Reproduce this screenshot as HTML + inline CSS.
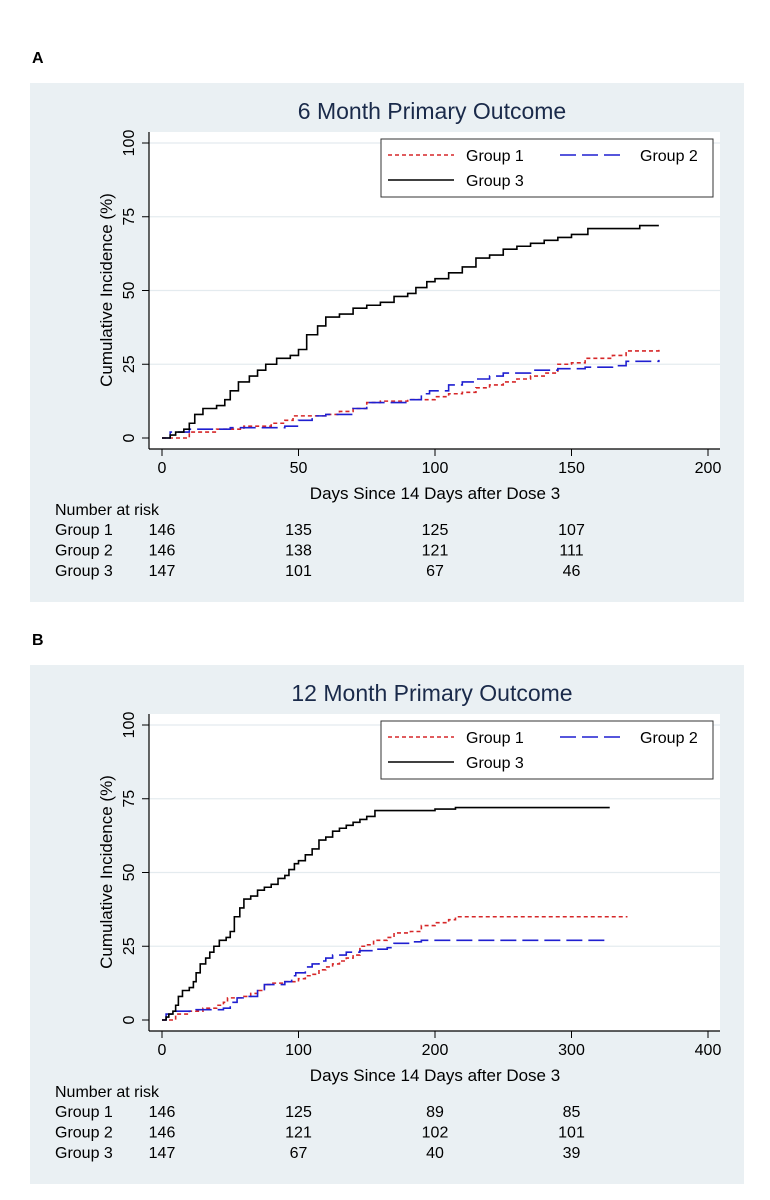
<!DOCTYPE html>
<html><head><meta charset="utf-8"><style>
html,body{margin:0;padding:0;background:#fff;width:770px;height:1200px;overflow:hidden}
svg{display:block;font-family:"Liberation Sans",Arial,sans-serif}
</style></head><body>
<svg id="root" width="770" height="1200" viewBox="0 0 770 1200" xmlns="http://www.w3.org/2000/svg"></svg>
<script>
// ---- data ----
const g1Days6 = [0,10,20,30,40,45,48,60,65,70,75,80,90,100,105,110,115,120,125,130,135,140,145,150,155,165,170,182];
const g1Vals6 = [0,2,3,4,5,6,7.5,8,9,10,12,12.5,13,14,15,15.5,17,18,19,20,21,22,25,25.5,27,28,29.5,30];
const g2Days6 = [0,3,10,25,45,50,55,60,70,75,90,95,98,105,110,115,120,125,135,145,155,165,170,182];
const g2Vals6 = [0,2,3,3.5,4,6,7.5,8,10,12,13,15,16,18,19,20,21,22,23,23.5,24,24.5,26,26.5];
const g3Days6 = [0,3,5,8,10,12,15,20,23,25,28,32,35,38,42,47,50,53,57,60,65,70,75,80,85,90,93,97,100,105,110,115,120,125,130,135,140,145,150,156,175,182];
const g3Vals6 = [0,1,2,3,5,8,10,11,13,16,19,21,23,25,27,28,30,35,38,41,42,44,45,46,48,49,51,53,54,56,58,61,62,64,65,66,67,68,69,71,72,72];
const g1Days12 = [0,10,20,30,40,45,48,60,65,70,75,80,90,100,105,110,115,120,125,130,135,140,145,150,155,165,170,182,190,200,210,215,341];
const g1Vals12 = [0,2,3,4,5,6,7.5,8,9,10,12,12.5,13,14,15,15.5,17,18,19,20,21,22,25,25.5,27,28,29.5,30,32,33,34,35,35];
const g2Days12 = [0,3,10,25,45,50,55,60,70,75,90,95,98,105,110,115,120,125,135,145,155,165,170,182,190,326];
const g2Vals12 = [0,2,3,3.5,4,6,7.5,8,10,12,13,15,16,18,19,20,21,22,23,23.5,24,24.5,26,26.5,27,27];
const g3Days12 = [0,3,5,8,10,12,15,20,23,25,28,32,35,38,42,47,50,53,57,60,65,70,75,80,85,90,93,97,100,105,110,115,120,125,130,135,140,145,150,156,200,215,328];
const g3Vals12 = [0,1,2,3,5,8,10,11,13,16,19,21,23,25,27,28,30,35,38,41,42,44,45,46,48,49,51,53,54,56,58,61,62,64,65,66,67,68,69,71,71.5,72,72];
const yTicks = [0,25,50,75,100];
const xTicks6 = [0,50,100,150,200];
const xTicks12 = [0,100,200,300,400];
const riskGroups = ["Group 1","Group 2","Group 3"];
const risk6 = [[146,135,125,107],[146,138,121,111],[147,101,67,46]];
const risk12 = [[146,125,89,85],[146,121,102,101],[147,67,40,39]];

const NS="http://www.w3.org/2000/svg";
const root=document.getElementById('root');
function mk(tag,attrs,parent,text){const e=document.createElementNS(NS,tag);for(const k in attrs)e.setAttribute(k,attrs[k]);if(text!==undefined)e.textContent=text;(parent||root).appendChild(e);return e;}

function panel(off,letter,title,xmax,xTicks,series,risk,pname){
  const g=mk('g',{});
  
  
  const lt=mk('text',{x:32,y:63+off,'font-size':'16','font-weight':'bold','fill':'#000'},g,letter);
  
  
  const bg=mk('rect',{x:30,y:83+off,width:714,height:519,fill:'#eaf0f3'},g);
  
  
  const pl=mk('rect',{x:149,y:132+off,width:571,height:317,fill:'#fff'},g);
  
  
  const t=mk('text',{x:432,y:119+off,'font-size':'23','fill':'#1a2a4a','text-anchor':'middle'},g,title);
  
  
  const X=d=>162+d*(546/xmax);
  const Y=v=>438+off-v*2.95;
  yTicks.forEach(v=>{
    if(v>0){const gl=mk('line',{x1:149,x2:720,y1:Y(v),y2:Y(v),stroke:'#e4ebef','stroke-width':1.2},g);
      
      }
    mk('line',{x1:142,x2:149,y1:Y(v),y2:Y(v),stroke:'#000'},g);
    const tl=mk('text',{x:0,y:0,transform:`translate(134,${Y(v)}) rotate(-90)`,'font-size':'16','text-anchor':'middle'},g,String(v));
    
    
  });
  mk('line',{x1:149,x2:149,y1:132+off,y2:449+off,stroke:'#000','stroke-width':1.2},g);
  mk('line',{x1:149,x2:720,y1:449+off,y2:449+off,stroke:'#000','stroke-width':1.2},g);
  const yt=mk('text',{x:0,y:0,transform:`translate(112,${290+off}) rotate(-90)`,'font-size':'17','text-anchor':'middle'},g,'Cumulative Incidence (%)');
  
  
  xTicks.forEach(d=>{
    mk('line',{x1:X(d),x2:X(d),y1:449+off,y2:456+off,stroke:'#000'},g);
    const xl=mk('text',{x:X(d),y:473+off,'font-size':'16','text-anchor':'middle'},g,String(d));
    
    
  });
  const xt=mk('text',{x:435,y:499+off,'font-size':'17','text-anchor':'middle'},g,'Days Since 14 Days after Dose 3');
  
  
  series.forEach(s=>{
    let d=`M${X(s.days[0])},${Y(s.vals[0])}`;
    for(let i=1;i<s.days.length;i++){d+=` H${X(s.days[i])} V${Y(s.vals[i])}`;}
    const p=mk('path',{d:d,fill:'none',stroke:s.color,'stroke-width':1.6,'stroke-dasharray':s.dash},g);
    
    
  });
  const lg=mk('g',{},g);
  
  
  mk('rect',{x:381,y:139+off,width:332,height:58,fill:'#fff',stroke:'#333','stroke-width':1},lg);
  const le=[[388,155,'#d62728','4,3','Group 1',466],[560,155,'#1f1fd0','16,6','Group 2',640],[388,180,'#000','','Group 3',466]];
  le.forEach(e=>{
    const eg=mk('g',{},lg);
    
    
    mk('line',{x1:e[0],x2:e[0]+66,y1:e[1]+off,y2:e[1]+off,stroke:e[2],'stroke-width':1.6,'stroke-dasharray':e[3]},eg);
    mk('text',{x:e[5],y:e[1]+6+off,'font-size':'16'},eg,e[4]);
  });
  const nr=mk('text',{x:55,y:515+off,'font-size':'16'},g,'Number at risk');
  
  
  riskGroups.forEach((gn,r)=>{
    const yy=535+off+r*20.5;
    const rl=mk('text',{x:55,y:yy,'font-size':'16'},g,gn);
    
    
    risk[r].forEach((n,c)=>{
      const rv=mk('text',{x:X(xTicks[c]),y:yy,'font-size':'16','text-anchor':'middle'},g,String(n));
      
      
    });
  });
}
panel(0,'A','6 Month Primary Outcome',200,xTicks6,[
  {days:g1Days6,vals:g1Vals6,color:'#d62728',dash:'4,3',name:'group1-curve'},
  {days:g2Days6,vals:g2Vals6,color:'#1f1fd0',dash:'16,6',name:'group2-curve'},
  {days:g3Days6,vals:g3Vals6,color:'#000',dash:'',name:'group3-curve'}],risk6,'panel-a');
panel(582,'B','12 Month Primary Outcome',400,xTicks12,[
  {days:g1Days12,vals:g1Vals12,color:'#d62728',dash:'4,3',name:'group1-curve'},
  {days:g2Days12,vals:g2Vals12,color:'#1f1fd0',dash:'16,6',name:'group2-curve'},
  {days:g3Days12,vals:g3Vals12,color:'#000',dash:'',name:'group3-curve'}],risk12,'panel-b');
</script>
</body></html>
